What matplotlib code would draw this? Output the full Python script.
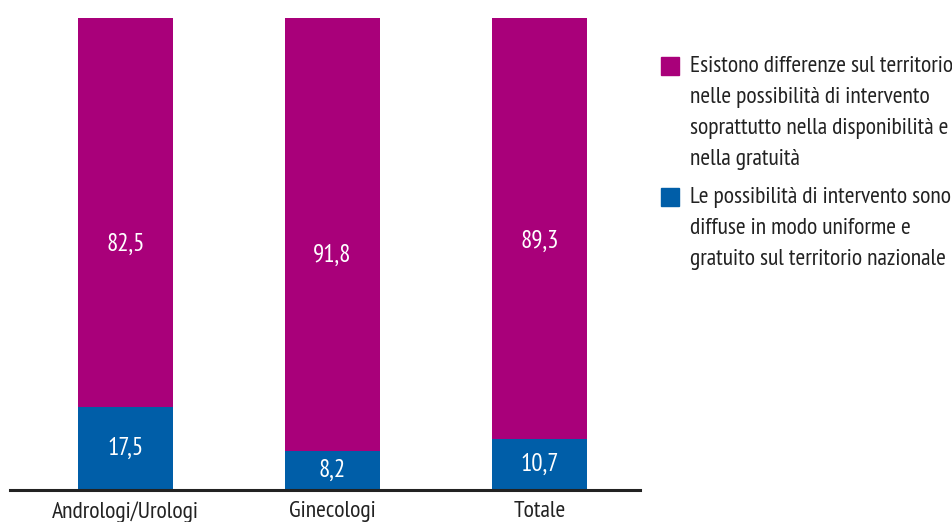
import matplotlib.pyplot as plt
from matplotlib.patches import Rectangle

categories = ['Andrologi/Urologi', 'Ginecologi', 'Totale']
uniformi = [17.5, 8.2, 10.7]
differenze = [82.5, 91.8, 89.3]
series_labels = [
    'Esistono differenze sul territorio\nnelle possibilità di intervento\nsoprattutto nella disponibilità e\nnella gratuità',
    'Le possibilità di intervento sono\ndiffuse in modo uniforme e\ngratuito sul territorio nazionale',
]
# vertical placement of the upper value labels (axis units)
top_label_y = [52.1, 49.8, 52.6]

magenta = '#A9007A'
blue = '#005EA8'
plt.rcParams['font.family'] = ['PT Sans Narrow', 'DejaVu Sans']

fig = plt.figure(figsize=(9.52, 5.22), dpi=100)
ax = fig.add_axes([0.0105, 0.0613, 0.6617, 0.9042])

x = range(len(categories))
ax.bar(x, uniformi, width=0.46, color=blue)
ax.bar(x, differenze, width=0.46, bottom=uniformi, color=magenta)

# value labels
for i in x:
    ax.text(i, uniformi[i] / 2, f'{uniformi[i]:.1f}'.replace('.', ','),
            ha='center', va='center', color='white', fontsize=18)
    ax.text(i, top_label_y[i], f'{differenze[i]:.1f}'.replace('.', ','),
            ha='center', va='center', color='white', fontsize=18)

ax.set_xlim(-0.558, 2.486)
ax.set_ylim(0, 100)
ax.set_xticks(list(x))
ax.set_xticklabels(categories, fontsize=17, color='#222222')
ax.tick_params(axis='x', length=0, pad=8)
ax.set_yticks([])
for s in ['top', 'right', 'left']:
    ax.spines[s].set_visible(False)
ax.spines['bottom'].set_linewidth(2.2)
ax.spines['bottom'].set_color('#222222')

# legend drawn by hand: square + wrapped text
W, H = 952, 522
for col, lab, ytop in [(magenta, series_labels[0], 57), (blue, series_labels[1], 188)]:
    fig.patches.append(Rectangle((661 / W, 1 - (ytop + 18) / H), 18 / W, 18 / H,
                                 transform=fig.transFigure, color=col))
    fig.text(690 / W, 1 - (ytop - 1) / H, lab, ha='left', va='top',
             fontsize=17, color='#222222', linespacing=1.63)

plt.savefig('out.png', dpi=100)
